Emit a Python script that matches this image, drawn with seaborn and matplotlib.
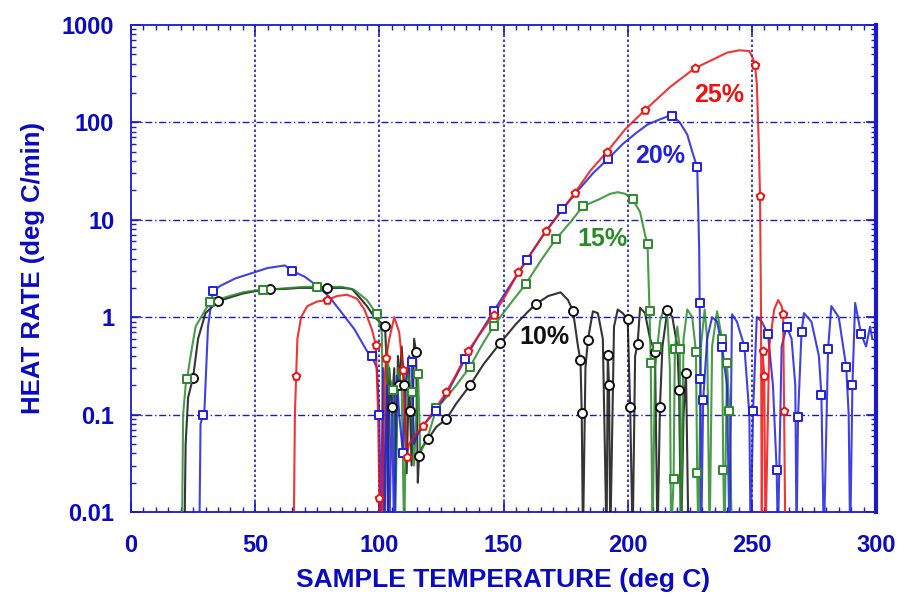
import matplotlib
matplotlib.use("Agg")
import matplotlib.pyplot as plt
import matplotlib.ticker as mticker
import numpy as np
import pandas as pd
import seaborn as sns

# ---------------- data ----------------
FLOOR = 0.005  # values that fall below the axis floor (0.01)

t10 = [21.5, 22, 23, 25, 27, 30, 35, 40, 45, 50, 56, 62, 68, 74, 79, 85, 89, 92, 95, 98, 102.3,
       103, 103.5, 104, 105, 106, 106.5, 107.5, 108, 109, 110, 111, 112, 112.4, 113, 114, 114.8,
       115.5, 116, 117, 119.6, 123, 127, 131, 136.5, 142, 148.6, 155, 160, 163, 168, 173, 176,
       178, 180, 181, 181.5, 182, 183, 184, 186, 188, 190, 191.5, 192, 192.5, 193, 194.5, 196,
       198, 200, 201, 202, 203, 204, 205, 207, 209, 211, 212, 213, 214, 216, 218, 220, 220.7,
       221.5, 222.5, 223.5, 224.5]
v10 = [FLOOR, 0.05, 0.15, 0.24, 0.6, 1.1, 1.46, 1.6, 1.75, 1.85, 1.94, 1.95, 2.0, 2.0, 2.0, 2.0,
       1.95, 1.6, 1.3, 1.0, 0.81,
       0.3, FLOOR, 0.3, 0.12, 0.3, 0.02, 0.4, 0.2, 0.5, 0.2, 0.025, 0.3, 0.11, 0.03, 0.6, 0.44,
       0.02, 0.038, 0.045, 0.056, 0.075, 0.09, 0.13, 0.2, 0.33, 0.54, 0.85, 1.15, 1.36, 1.65, 1.8,
       1.5, 1.15, 0.5, 0.36, 0.105, FLOOR, 0.3, 0.59, 1.15, 1.1, 0.6, FLOOR, 0.41, 0.2, FLOOR,
       0.8, 1.2, 1.1, 0.95, 0.12, FLOOR, 0.4, 0.53, 1.25, 1.1, 0.6, 0.44, FLOOR, 0.12, 0.5,
       1.18, 1.0, 0.5, 0.18, FLOOR, 0.1, 0.27, FLOOR]
m10_t = [25, 35, 56, 79, 102.3, 105, 108, 110, 112.4, 114.8, 116, 119.6, 127, 136.5, 148.6, 163,
         178, 181, 181.5, 184, 192, 192.5, 200, 201, 204, 211, 213, 216, 220.7, 223.5]
m10_v = [0.24, 1.46, 1.94, 2.0, 0.81, 0.12, 0.2, 0.2, 0.11, 0.44, 0.038, 0.056, 0.09, 0.2, 0.54,
         1.36, 1.15, 0.36, 0.105, 0.59, 0.41, 0.2, 0.95, 0.12, 0.53, 0.44, 0.12, 1.18, 0.18, 0.27]

t15 = [20.5, 21, 22, 22.5, 24, 26, 30, 32, 38, 45, 50, 53, 62, 70, 75, 85, 90, 95, 99, 101, 102,
       103, 104, 105.5, 106.5, 107.5, 109, 110, 111, 113, 114, 115.6, 116.5, 118, 120, 123, 127,
       131, 136.5, 141, 146, 152, 159, 165, 171, 177, 182, 188, 193, 196, 199, 202, 205, 207,
       208, 208.8, 209.3, 210, 211, 212, 213, 214.5, 216, 217, 217.5, 218.5, 219, 220, 221, 221.5,
       222.5, 224, 226, 227.5, 228, 228.5, 229.5, 231, 232, 233, 234, 236, 238, 238.5, 239, 240,
       241, 242]
v15 = [FLOOR, 0.1, 0.2, 0.23, 0.4, 0.8, 1.2, 1.43, 1.6, 1.8, 1.88, 1.9, 1.98, 2.05, 2.05, 2.05,
       1.9, 1.5, 1.07, 0.7, FLOOR,
       0.5, 0.25, 0.18, 0.01, 0.3, 0.2, FLOOR, 0.3, 0.17, 0.03, 0.26, 0.04, 0.05, 0.065, 0.116,
       0.15, 0.2, 0.31, 0.5, 0.81, 1.3, 2.2, 3.8, 6.3, 9.5, 13.8, 16.0, 18.5, 19.2, 18.5, 16.3,
       12.0, 7.0, 5.6, 1.15, 0.34, FLOOR, 0.3, 0.5, 0.9, 1.2, 1.0, 0.3, FLOOR, 0.022, 0.47, 0.8,
       0.47, FLOOR, 0.6, 1.2, 1.0, 0.44, 0.025, FLOOR, 0.5, 1.2, 0.6, FLOOR, 0.5, 1.15, 0.6,
       0.027, FLOOR, 0.34, 0.11, FLOOR]
m15_t = [22.5, 32, 53, 75, 99, 105.5, 113, 115.6, 123, 136.5, 146, 159, 171, 182, 202, 208, 208.8,
         209.3, 212, 218.5, 219, 221, 227.5, 228, 238, 238.5, 240, 241]
m15_v = [0.23, 1.43, 1.9, 2.05, 1.07, 0.18, 0.17, 0.26, 0.116, 0.31, 0.81, 2.2, 6.3, 13.8, 16.3,
         5.6, 1.15, 0.34, 0.5, 0.022, 0.47, 0.47, 0.44, 0.025, 0.6, 0.027, 0.34, 0.11]

t20 = [27.5, 28, 29, 29.5, 30, 31, 33, 36, 42, 48, 55, 62, 65, 70, 76, 80, 85, 90, 95, 97, 99,
       100, 100.5, 101.5, 102, 103, 104, 105, 106, 107, 108, 109.5, 110.5, 112, 113, 114, 115,
       118, 123, 128, 134.5, 140, 146, 152, 159.5, 166, 173.6, 180, 186, 192, 198, 204, 208, 212,
       216, 218, 221, 224, 226, 228, 228.8, 229, 229.3, 229.6, 230.4, 232, 234, 236, 238, 240,
       241, 242, 244, 247, 249, 249.5, 250.5, 252, 254, 256.5, 258.5, 260, 260.5, 262, 264, 266,
       267.5, 268, 268.6, 270, 271, 274, 277, 278, 279, 280.7, 282, 285, 288, 289, 289.6, 290.5,
       291.6, 294, 296, 297.6, 298.5]
v20 = [FLOOR, 0.08, 0.1, 0.1, 0.2, 0.8, 1.85, 2.1, 2.5, 2.8, 3.2, 3.4, 2.97, 2.6, 2.0, 1.6, 1.1,
       0.75, 0.45, 0.4, 0.3, 0.1,
       FLOOR, 0.3, FLOOR, 0.2, FLOOR, 0.15, FLOOR, 0.25, 0.1, 0.04, 0.2, 0.4, 0.35, 0.05, 0.06,
       0.08, 0.11, 0.18, 0.37, 0.65, 1.15, 2.0, 3.9, 7.0, 12.8, 20, 30, 42, 60, 80, 95, 105,
       115, 116, 100, 75, 50, 34.6, 5.0, 1.4, 0.23, FLOOR, 0.14, 0.6, 1.0, 0.9, 0.5, 0.2,
       FLOOR, 1.07, 0.9, 0.5, 0.1, FLOOR, 0.11, 1.0, 0.9, 0.67, 0.2, 0.027, FLOOR, 0.5, 0.8,
       0.6, 0.2, FLOOR, 0.094, 0.7, 1.1, 0.9, 0.4, 0.16, FLOOR, 0.47, 1.3, 1.0, 0.31, 0.1,
       FLOOR, 0.2, 1.4, 0.67, 0.5, 0.8, 0.6]
m20_t = [29, 33, 65, 97, 100, 109.5, 113, 123, 134.5, 146, 159.5, 173.6, 192, 218, 228, 229, 229.3,
         230.4, 238, 247, 250.5, 256.5, 260, 264, 268.6, 270, 278, 280.7, 288, 290.5, 294]
m20_v = [0.1, 1.85, 2.97, 0.4, 0.1, 0.04, 0.35, 0.11, 0.37, 1.15, 3.9, 12.8, 42, 116, 34.6, 1.4,
         0.23, 0.14, 0.5, 0.5, 0.11, 0.67, 0.027, 0.8, 0.094, 0.7, 0.16, 0.47, 0.31, 0.2, 0.67]

t25 = [65.5, 66, 66.5, 67, 68.5, 71, 75, 79, 83, 87, 91, 94, 97, 98.6, 99.5, 100, 101, 102, 102.7,
       104, 106, 108, 109.5, 111, 112, 114, 117.6, 122, 127, 131, 135.7, 141, 146, 151, 156, 161,
       167, 173, 178.8, 185, 191.7, 199, 207, 217, 227, 235, 240, 245, 249, 250.5, 251.3, 252,
       252.8, 253.3, 253.7, 254, 254.3, 255, 255.5, 257, 259, 260.6, 262, 262.6, 263, 263.5]
v25 = [FLOOR, 0.1, 0.25, 0.6, 1.0, 1.3, 1.45, 1.5, 1.65, 1.7, 1.55, 1.2, 0.75, 0.52, 0.1, 0.014,
       FLOOR, 0.2, 0.38, 0.6, 1.0, 0.7, 0.29, 0.037, 0.05, 0.06, 0.076, 0.11, 0.17, 0.26, 0.45,
       0.7, 1.05, 1.7, 2.9, 4.5, 7.6, 12, 19, 32, 50, 85, 134, 230, 360, 450, 520, 550, 540,
       450, 385, 250, 60, 17.5, 1.0, FLOOR, 0.45, 0.25, FLOOR, 0.5, 1.2, 1.5, 1.3, 1.07, 0.108,
       FLOOR]
m25_t = [66.5, 79, 98.6, 100, 102.7, 109.5, 111, 117.6, 127, 135.7, 146, 156, 167, 178.8, 191.7,
         207, 227, 251.3, 253.3, 254.3, 255, 262.6, 263]
m25_v = [0.25, 1.5, 0.52, 0.014, 0.38, 0.29, 0.037, 0.076, 0.17, 0.45, 1.05, 2.9, 7.6, 19, 50,
         134, 360, 385, 17.5, 0.45, 0.25, 1.07, 0.108]

labels = ["10%", "15%", "20%", "25%"]
label_pos = [(166.5, 0.62), (190, 6.3), (213, 45), (237, 190)]

# ---------------- style ----------------
sns.set_theme(style="white")
plt.rcParams["font.family"] = ["Liberation Sans", "DejaVu Sans"]
plt.rcParams["font.weight"] = "bold"

AX_BLUE = "#1a1acc"
TXT_BLUE = "#0a0ac0"
colors = ["#111111", "#2a8a2a", "#2020dd", "#ee1111"]
markers = ["o", "s", "s", "p"]

fig = plt.figure(figsize=(8.97, 6.0), dpi=100)
ax = fig.add_axes([131 / 897, 1 - 512 / 600, (876 - 131) / 897, (512 - 25) / 600])

series = [(t10, v10, m10_t, m10_v), (t15, v15, m15_t, m15_v),
          (t20, v20, m20_t, m20_v), (t25, v25, m25_t, m25_v)]

for (t, v, mt, mv), c, mk in zip(series, colors, markers):
    df = pd.DataFrame({"T": t, "R": v})
    sns.lineplot(data=df, x="T", y="R", ax=ax, sort=False, estimator=None,
                 color=c, lw=1.5, alpha=0.85, zorder=3)
    dm = pd.DataFrame({"T": mt, "R": mv})
    sns.scatterplot(data=dm, x="T", y="R", ax=ax, marker=mk, s=42 if mk == "o" else 34,
                    facecolor="white", edgecolor=c, linewidth=1.4, zorder=4)

ax.set_yscale("log")
ax.set_xlim(0, 300)
ax.set_ylim(0.01, 1000)

# grid
ax.grid(False)
for yv in [0.1, 1, 10, 100]:
    ax.axhline(yv, color=AX_BLUE, lw=1.0, ls=(0, (5, 2, 1, 2)), zorder=1)
for xv in [50, 100, 150, 200, 250]:
    ax.axvline(xv, color=AX_BLUE, lw=1.2, ls=(0, (1.5, 1.5)), zorder=1)

# ticks
ax.xaxis.set_major_locator(mticker.MultipleLocator(50))
ax.xaxis.set_minor_locator(mticker.MultipleLocator(5))
ax.yaxis.set_major_locator(mticker.LogLocator(base=10, numticks=10))
ax.yaxis.set_minor_locator(mticker.LogLocator(base=10, subs=np.arange(2, 10), numticks=20))
ax.yaxis.set_major_formatter(mticker.FuncFormatter(lambda y, p: f"{y:g}"))
ax.yaxis.set_minor_formatter(mticker.NullFormatter())
ax.tick_params(which="both", direction="in", top=True, right=True, bottom=True, left=True,
               color=AX_BLUE)
ax.tick_params(which="major", length=7, width=1.2, labelsize=17, labelcolor=TXT_BLUE)
ax.tick_params(axis="x", which="major", pad=16)
ax.tick_params(axis="y", which="major", pad=12)
ax.tick_params(which="minor", length=3.5, width=1.0)
for lab in ax.get_xticklabels() + ax.get_yticklabels():
    lab.set_fontweight("bold")

for side in ["left", "bottom", "top"]:
    ax.spines[side].set_color(AX_BLUE)
    ax.spines[side].set_linewidth(1.3)
ax.spines["right"].set_color(AX_BLUE)
ax.spines["right"].set_linewidth(3)

ax.set_xlabel("SAMPLE TEMPERATURE (deg C)", fontsize=19, fontweight="bold", color=TXT_BLUE,
              labelpad=8)
ax.set_ylabel("HEAT RATE (deg C/min)", fontsize=18.5, fontweight="bold", color=TXT_BLUE,
              labelpad=12)

for lab, (x, y), c in zip(labels, label_pos, colors):
    ax.text(x, y, lab, color=c, fontsize=18, fontweight="bold", ha="center", va="center",
            zorder=5)

fig.savefig("out.png", dpi=100)
